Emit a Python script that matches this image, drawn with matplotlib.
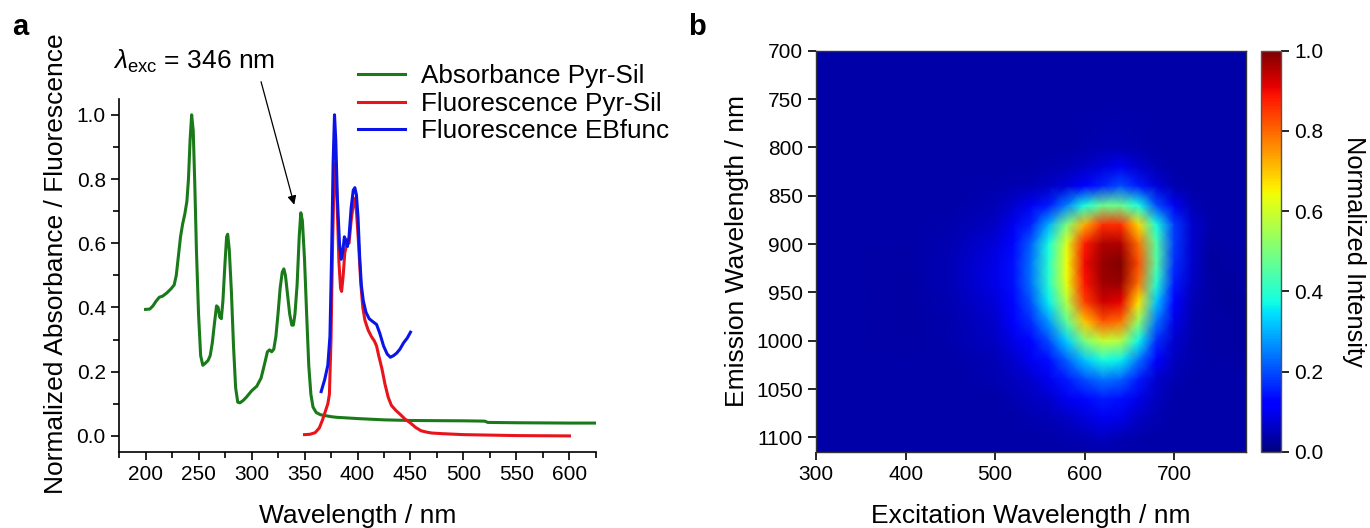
import numpy as np
import matplotlib
matplotlib.use("Agg")
import matplotlib.pyplot as plt
from matplotlib.ticker import MultipleLocator

plt.rcParams['font.family'] = ['Liberation Sans', 'DejaVu Sans']
plt.rcParams['mathtext.fontset'] = 'custom'
plt.rcParams['mathtext.rm'] = 'Liberation Sans'
plt.rcParams['mathtext.it'] = 'Liberation Sans:italic'

# ---------------- Panel a data ----------------
abs_wl = [200, 204, 207, 210, 213, 216, 220, 224, 227, 229, 231, 233, 235, 237, 239, 240.5, 242,
          243.5, 245, 246.5, 248, 250, 252, 254, 256, 259, 261, 263, 265, 267, 268.5, 270, 271.5,
          273, 275, 276.5, 277.5, 279, 281, 283, 285, 287, 289, 292, 295, 300, 305, 309, 312,
          315, 317, 319, 321, 323, 325, 327, 329, 330.5, 332, 334, 336, 338, 339.5, 341, 343,
          345, 346.5, 348, 350, 352, 354, 356, 358, 361, 365, 370, 375, 380, 390, 400, 425,
          450, 500, 520, 523, 550, 600, 625]
abs_val = [0.394, 0.395, 0.405, 0.42, 0.432, 0.435, 0.445, 0.458, 0.47, 0.5, 0.56, 0.62, 0.66,
           0.69, 0.73, 0.8, 0.92, 1.0, 0.95, 0.78, 0.58, 0.38, 0.25, 0.22, 0.225, 0.235, 0.25,
           0.29, 0.35, 0.405, 0.4, 0.37, 0.365, 0.42, 0.54, 0.62, 0.628, 0.58, 0.45, 0.28, 0.15,
           0.105, 0.103, 0.11, 0.12, 0.14, 0.155, 0.18, 0.22, 0.262, 0.268, 0.262, 0.27, 0.31,
           0.38, 0.46, 0.51, 0.52, 0.5, 0.44, 0.38, 0.345, 0.345, 0.38, 0.47, 0.62, 0.695, 0.67,
           0.55, 0.38, 0.22, 0.13, 0.09, 0.073, 0.066, 0.063, 0.06, 0.058, 0.056, 0.054, 0.05,
           0.048, 0.047, 0.046, 0.042, 0.041, 0.040, 0.040]

flp_wl = [350, 355, 360, 364, 367, 370, 372, 373.5, 375, 376.5, 378, 379.5, 381, 382.5, 384,
          385, 386.5, 388, 390, 392, 394, 396, 397.5, 399, 401, 403, 405, 407, 410, 413, 416,
          418, 420, 423, 426, 429, 432, 436, 440, 445, 450, 455, 460, 465, 470, 480, 500, 550, 600]
flp_val = [0.004, 0.005, 0.01, 0.025, 0.05, 0.08, 0.1, 0.13, 0.3, 0.6, 0.82, 0.85, 0.7, 0.54,
           0.46, 0.45, 0.5, 0.57, 0.6, 0.6, 0.67, 0.72, 0.74, 0.7, 0.6, 0.48, 0.4, 0.36, 0.33,
           0.31, 0.295, 0.28, 0.25, 0.21, 0.16, 0.12, 0.095, 0.08, 0.068, 0.052, 0.04, 0.026,
           0.016, 0.012, 0.009, 0.007, 0.004, 0.001, 0.0]

fle_wl = [365.7, 369, 372, 374, 375.5, 377, 378.3, 379.5, 381, 383, 384.6, 386, 387.6, 389,
          390.5, 392, 394, 396, 397.5, 399, 400.5, 402, 403.6, 405.5, 408, 411, 414, 418, 421,
          424.6, 428, 431, 434, 437, 440, 443.5, 447, 450]
fle_val = [0.138, 0.175, 0.22, 0.31, 0.55, 0.85, 1.0, 0.92, 0.74, 0.6, 0.55, 0.57, 0.62, 0.61,
           0.59, 0.62, 0.71, 0.765, 0.773, 0.75, 0.68, 0.56, 0.47, 0.42, 0.385, 0.365, 0.357,
           0.347, 0.32, 0.28, 0.255, 0.245, 0.25, 0.258, 0.27, 0.29, 0.305, 0.323]

# ---------------- Panel b data ----------------
ex_wl = [300, 350, 400, 450, 500, 520, 540, 560, 580, 600, 620, 640, 660, 680, 700, 720, 740, 760, 780]
em_wl = [700, 750, 800, 820, 840, 860, 880, 900, 920, 940, 960, 980, 1000, 1020, 1040, 1060, 1080, 1100, 1115]
B = 0.037
intensity = [
    # 300 350 400 450  500    520   540   560   580   600   620   640   660   680   700   720   740    760    780
    [B, B, B, B, B, B, B, B, B, B, B, B, B, B, B, B, B, B, B],                                                   # 700
    [B, B, B, B, B, B, B, B, B, B, B, B, B, B, B, B, B, B, B],                                                   # 750
    [B, B, B, B, B, B, B, B, B, 0.04, 0.045, 0.045, 0.04, B, B, B, B, B, B],                                     # 800
    [B, B, B, B, B, B, B, 0.045, 0.05, 0.06, 0.08, 0.1, 0.07, 0.045, B, B, B, B, B],                             # 820
    [B, B, B, B, 0.04, 0.045, 0.05, 0.06, 0.08, 0.12, 0.16, 0.2, 0.15, 0.08, 0.045, B, B, B, B],                 # 840
    [B, B, B, B, 0.05, 0.07, 0.1, 0.15, 0.25, 0.38, 0.48, 0.48, 0.38, 0.2, 0.1, 0.05, B, B, B],                  # 860
    [B, B, B, 0.04, 0.06, 0.1, 0.16, 0.3, 0.5, 0.73, 0.86, 0.86, 0.68, 0.38, 0.18, 0.07, 0.04, B, B],            # 880
    [B, B, B, 0.045, 0.08, 0.13, 0.22, 0.38, 0.62, 0.88, 0.96, 0.96, 0.79, 0.45, 0.18, 0.07, 0.035, B, B],       # 900
    [B, B, 0.035, 0.05, 0.09, 0.14, 0.24, 0.4, 0.64, 0.9, 0.98, 1.0, 0.83, 0.45, 0.17, 0.07, 0.028, 0.035, B],   # 920
    [B, B, 0.035, 0.05, 0.09, 0.14, 0.24, 0.4, 0.63, 0.89, 0.97, 0.98, 0.79, 0.4, 0.15, 0.06, 0.035, 0.028, B],  # 940
    [B, B, 0.033, 0.045, 0.08, 0.13, 0.21, 0.36, 0.57, 0.84, 0.93, 0.91, 0.67, 0.32, 0.12, 0.05, 0.035, 0.03, 0.028],  # 960
    [B, B, 0.033, 0.04, 0.07, 0.11, 0.17, 0.28, 0.47, 0.7, 0.82, 0.79, 0.53, 0.24, 0.09, 0.045, 0.035, 0.032, 0.03],  # 980
    [B, B, 0.035, 0.04, 0.06, 0.09, 0.13, 0.2, 0.33, 0.5, 0.59, 0.57, 0.37, 0.17, 0.07, 0.04, 0.035, 0.033, 0.03],  # 1000
    [B, B, B, B, 0.05, 0.07, 0.1, 0.14, 0.22, 0.32, 0.38, 0.36, 0.24, 0.11, 0.055, 0.04, B, B, 0.032],           # 1020
    [B, B, B, B, 0.045, 0.055, 0.07, 0.1, 0.15, 0.2, 0.24, 0.22, 0.15, 0.07, 0.045, B, B, B, B],                 # 1040
    [B, B, B, B, B, 0.045, 0.055, 0.07, 0.1, 0.13, 0.15, 0.14, 0.09, 0.055, B, B, B, B, B],                      # 1060
    [B, B, B, B, B, B, 0.045, 0.05, 0.06, 0.08, 0.1, 0.09, 0.06, 0.045, B, B, B, B, B],                          # 1080
    [B, B, B, B, B, B, B, B, 0.045, 0.05, 0.06, 0.05, 0.04, B, B, B, B, B, B],                                   # 1100
    [B, B, B, B, B, B, B, B, B, B, B, B, B, B, B, B, B, B, B],                                                   # 1115
]

fig = plt.figure(figsize=(13.7, 5.28), dpi=100)

tick_fs = 15
label_fs = 19

# ---------------- Panel a ----------------
ax = fig.add_axes([0.0869, 0.144, 0.3481, 0.669])
ax.plot(abs_wl, abs_val, color='#1a7a1a', lw=2.2, label='Absorbance Pyr-Sil')
ax.plot(flp_wl, flp_val, color='#e8141c', lw=2.2, label='Fluorescence Pyr-Sil')
ax.plot(fle_wl, fle_val, color='#0a14e6', lw=2.2, label='Fluorescence EBfunc')
ax.set_xlim(175, 625)
ax.set_ylim(-0.05, 1.05)
ax.set_xticks(range(200, 601, 50))
ax.xaxis.set_minor_locator(MultipleLocator(25))
ax.yaxis.set_minor_locator(MultipleLocator(0.1))
ax.set_yticks([0, 0.2, 0.4, 0.6, 0.8, 1.0])
ax.set_yticklabels(['0.0', '0.2', '0.4', '0.6', '0.8', '1.0'])
ax.spines['top'].set_visible(False)
ax.spines['right'].set_visible(False)
for s in ('left', 'bottom'):
    ax.spines[s].set_linewidth(1.2)
ax.tick_params(which='major', direction='out', length=6, width=1.2, labelsize=tick_fs)
ax.tick_params(which='minor', direction='out', length=4, width=1.2)
ax.set_xlabel('Wavelength / nm', fontsize=label_fs, labelpad=14)
ax.set_ylabel('Normalized Absorbance / Fluorescence', fontsize=label_fs)
ax.yaxis.set_label_coords(-0.107, 0.532)
leg = ax.legend(loc='upper left', bbox_to_anchor=(0.48, 1.127), frameon=False,
                fontsize=18.8, handlelength=1.8, handletextpad=0.58, labelspacing=0.13,
                borderaxespad=0)
ax.text(245.5, 1.165, r'$\mathit{\lambda}_{\mathrm{exc}}$ = 346 nm', fontsize=19,
        ha='center', va='center', clip_on=False)
ax.annotate('', xy=(340.3, 0.72), xytext=(309, 1.103), textcoords='data',
            annotation_clip=False,
            arrowprops=dict(arrowstyle='-|>', color='black', lw=0.9,
                            mutation_scale=13, shrinkA=0, shrinkB=0))
fig.text(0.009, 0.949, 'a', fontsize=21, fontweight='bold', va='center')

# ---------------- Panel b ----------------
axb = fig.add_axes([0.5956, 0.144, 0.3139, 0.76])
X, Y = np.meshgrid(ex_wl, em_wl)
Z = np.array(intensity)
mesh = axb.pcolormesh(X, Y, Z, shading='gouraud', cmap='jet', vmin=0, vmax=1)
axb.set_xlim(300, 780)
axb.set_ylim(1115, 700)
axb.set_xticks([300, 400, 500, 600, 700])
axb.set_yticks(range(700, 1101, 50))
axb.tick_params(direction='out', length=6, width=1.2, labelsize=tick_fs)
for s in axb.spines.values():
    s.set_linewidth(1.0)
    s.set_color('#333333')
axb.set_xlabel('Excitation Wavelength / nm', fontsize=label_fs, labelpad=14)
axb.set_ylabel('Emission Wavelength / nm', fontsize=label_fs, labelpad=5)
fig.text(0.502, 0.949, 'b', fontsize=21, fontweight='bold', va='center')

cax = fig.add_axes([0.9204, 0.144, 0.0146, 0.76])
cb = fig.colorbar(mesh, cax=cax)
cb.set_ticks([0, 0.2, 0.4, 0.6, 0.8, 1.0])
cb.ax.set_yticklabels(['0.0', '0.2', '0.4', '0.6', '0.8', '1.0'])
cb.ax.tick_params(direction='out', length=6, width=1.2, labelsize=tick_fs)
cb.outline.set_linewidth(1.0)
cb.outline.set_edgecolor('#555555')
cb.set_label('Normalized Intensity', fontsize=18.3, rotation=270, labelpad=31)

fig.savefig('out.png', dpi=100)
